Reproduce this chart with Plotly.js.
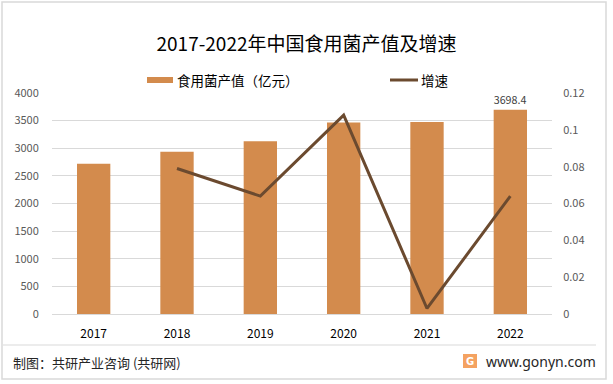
<!DOCTYPE html>
<html>
<head>
<meta charset="utf-8">
<script src="https://cdn.plot.ly/plotly-3.0.1.min.js"></script>
<style>html,body{margin:0;padding:0;background:#fff;}#chart{width:613px;height:384px;}</style>
</head>
<body>
<div id="chart"></div>
<script>
const years = ['2017', '2018', '2019', '2020', '2021', '2022'];
const outputValue = [2720, 2937, 3127, 3466, 3476, 3698.4];
const growthYears = ['2018', '2019', '2020', '2021', '2022'];
const growthRate = [0.079, 0.064, 0.108, 0.003, 0.064];
const valueLabels = ['', '', '', '', '', '3698.4'];

const titleText = '2017-2022年中国食用菌产值及增速';
const barName = '食用菌产值（亿元）';
const lineName = '增速';
const sourceText = '制图：共研产业咨询 (共研网)';
const siteText = 'www.gonyn.com';

const cjk = '"Noto Sans CJK SC", "Noto Sans", sans-serif';
const barColor = '#D38B4D';
const lineColor = '#6B4A2F';

const traces = [
  {
    type: 'bar', x: years, y: outputValue, name: barName,
    marker: {color: barColor}, text: valueLabels, textposition: 'outside',
    textfont: {family: cjk, size: 11.5, color: '#404040'}, cliponaxis: false,
    hoverinfo: 'x+y'
  },
  {
    type: 'scatter', mode: 'lines', x: growthYears, y: growthRate, name: lineName,
    yaxis: 'y2', line: {color: lineColor, width: 3}
  }
];

const layout = {
  width: 613, height: 384,
  margin: {l: 52, r: 61, t: 93, b: 70},
  paper_bgcolor: '#fff', plot_bgcolor: '#fff',
  showlegend: false,
  bargap: 0.6,
  font: {family: cjk, color: '#595959'},
  title: {text: titleText, x: 0.5, xanchor: 'center', y: 0.885, yanchor: 'middle',
          font: {family: cjk, size: 19, color: '#000'}},
  xaxis: {
    type: 'category', showgrid: false, showline: true, linecolor: '#D9D9D9', linewidth: 1,
    ticks: 'outside', ticklen: 9, tickcolor: 'rgba(0,0,0,0)',
    tickfont: {family: cjk, size: 12, color: '#000'}, zeroline: false
  },
  yaxis: {
    range: [0, 4000], dtick: 500, showgrid: true, gridcolor: '#D9D9D9', gridwidth: 1,
    zeroline: false, showline: false, ticks: 'outside', ticklen: 10, tickcolor: 'rgba(0,0,0,0)',
    tickfont: {family: cjk, size: 11, color: '#595959'}
  },
  yaxis2: {
    overlaying: 'y', side: 'right', range: [0, 0.12], dtick: 0.02, showgrid: false,
    zeroline: false, showline: false, ticks: 'outside', ticklen: 8, tickcolor: 'rgba(0,0,0,0)',
    tickfont: {family: cjk, size: 11, color: '#595959'}
  },
  shapes: [
    {type: 'rect', xref: 'paper', yref: 'paper', x0: -50/500, x1: (606-52)/500, y0: (314-379)/221, y1: (314-2)/221,
     line: {color: '#D9D9D9', width: 1.5}, fillcolor: 'rgba(0,0,0,0)', layer: 'below'},
    {type: 'line', xref: 'paper', yref: 'paper', x0: (3-52)/500, x1: (596-52)/500, y0: (314-345)/221, y1: (314-345)/221,
     line: {color: '#E6E6E6', width: 1.5}},
    {type: 'rect', xref: 'paper', yref: 'paper', x0: (147-52)/500, x1: (173-52)/500, y0: (314-77)/221, y1: (314-83)/221,
     fillcolor: barColor, line: {width: 0}},
    {type: 'line', xref: 'paper', yref: 'paper', x0: (390-52)/500, x1: (418-52)/500, y0: (314-80)/221, y1: (314-80)/221,
     line: {color: lineColor, width: 3}},
    {type: 'rect', xref: 'paper', yref: 'paper', x0: (463-52)/500, x1: (477-52)/500, y0: (314-354)/221, y1: (314-368)/221,
     fillcolor: '#F4A261', line: {width: 0}}
  ],
  annotations: [
    {xref: 'paper', yref: 'paper', x: (175-52)/500, y: (314-80)/221, xanchor: 'left', yanchor: 'middle',
     text: barName, showarrow: false, font: {family: cjk, size: 13.5, color: '#000'}},
    {xref: 'paper', yref: 'paper', x: (419-52)/500, y: (314-80)/221, xanchor: 'left', yanchor: 'middle',
     text: lineName, showarrow: false, font: {family: cjk, size: 13.5, color: '#000'}},
    {xref: 'paper', yref: 'paper', x: (11-52)/500, y: (314-362)/221, xanchor: 'left', yanchor: 'middle',
     text: sourceText, showarrow: false, font: {family: cjk, size: 13, color: '#262626'}},
    {xref: 'paper', yref: 'paper', x: (470-52)/500, y: (314-361.5)/221, xanchor: 'center', yanchor: 'middle',
     text: '<b>G</b>', showarrow: false, font: {family: 'DejaVu Sans', size: 10, color: '#fff'}},
    {xref: 'paper', yref: 'paper', x: (484-52)/500, y: (314-361)/221, xanchor: 'left', yanchor: 'middle',
     text: siteText, showarrow: false, font: {family: '"Noto Sans", sans-serif', size: 14, color: '#262626'}}
  ]
};

Plotly.newPlot('chart', traces, layout, {displayModeBar: false, staticPlot: true});
</script>
</body>
</html>
